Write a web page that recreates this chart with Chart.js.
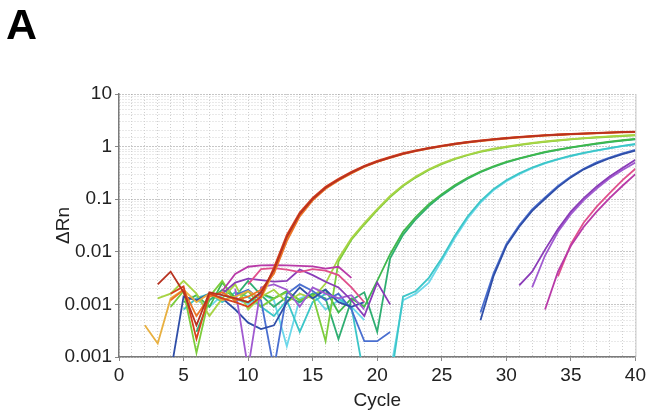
<!DOCTYPE html>
<html>
<head>
<meta charset="utf-8">
<script src="https://cdn.jsdelivr.net/npm/chart.js@4.4.1/dist/chart.umd.min.js"></script>
<style>
  html, body { margin: 0; padding: 0; background: #fff; }
</style>
</head>
<body>
<canvas id="qpcrChart" width="649" height="417"></canvas>
<script>
// amplification plot, delta Rn per cycle (log scale)
// each series starts at its own cycle, null = no point plotted
const yTickLabels = ['0.001', '0.001', '0.01', '0.1', '1', '10'];   // 1e-4 .. 1e1 as printed

const redA = [0.0024, 0.0042, 0.0017, 0.0004, 0.0017, 0.0015, 0.0013, 0.0011, 0.0017, 0.0045,
  0.019, 0.052, 0.10, 0.165, 0.235, 0.32, 0.42, 0.52, 0.62, 0.73,
  0.83, 0.93, 1.02, 1.12, 1.21, 1.29, 1.37, 1.44, 1.51, 1.57,
  1.63, 1.68, 1.73, 1.77, 1.81, 1.85, 1.88, 1.91];
const redB = [0.0016, 0.0022, 0.00022, 0.0016, 0.0013, 0.0011, 0.0009, 0.0014, 0.005,
  0.021, 0.056, 0.106, 0.172, 0.245, 0.33, 0.43, 0.535, 0.64, 0.75,
  0.85, 0.95, 1.04, 1.14, 1.23, 1.31, 1.39, 1.46, 1.53, 1.59,
  1.65, 1.7, 1.75, 1.79, 1.83, 1.87, 1.9, 1.93];
const orangeC = [0.0012, 0.0019, 0.0006, 0.0014, 0.0017, 0.0012, 0.0014, 0.0019, 0.0038,
  0.016, 0.047, 0.095, 0.158, 0.228, 0.31, 0.41, 0.51, 0.61, 0.72,
  0.82, 0.92, 1.01, 1.1, 1.19, 1.27, 1.35, 1.42, 1.49, 1.55,
  1.61, 1.66, 1.71, 1.75, 1.79, 1.83, 1.86, 1.89];
const amberD = [0.0004, 0.00018, 0.0013, 0.0019, 0.0011, 0.0016, 0.0012, 0.0014, 0.0018, 0.0013, 0.0042,
  0.018, 0.05, 0.098, 0.162, 0.232, 0.315, 0.415, 0.52, 0.625, 0.735,
  0.835, 0.935, 1.025, 1.12, 1.21, 1.29, 1.37, 1.44, 1.51, 1.57,
  1.63, 1.68, 1.73, 1.77, 1.81, 1.85, 1.88, 1.91];
const limeA = [0.0013, 0.0016, 0.0028, 0.0016, 0.0006, 0.0013, 0.0024, 0.0008, 0.0014, 0.0019, 0.0011, 0.0016, 0.0013, 0.0025,
  0.0075, 0.018, 0.035, 0.065, 0.115, 0.185, 0.27, 0.37, 0.48, 0.59,
  0.70, 0.81, 0.91, 1.0, 1.09, 1.17, 1.25, 1.32, 1.39, 1.45,
  1.51, 1.56, 1.61, 1.66];
const limeB = [0.0009, 0.0018, 0.00012, 0.0014, 0.0028, 0.0011, 0.0018, 0.0009, 0.0013, 0.0017, 0.0012, 0.0015, 0.0002,
  0.0065, 0.017, 0.033, 0.062, 0.11, 0.178, 0.26, 0.36, 0.465, 0.575,
  0.685, 0.79, 0.89, 0.98, 1.07, 1.15, 1.23, 1.3, 1.37, 1.43,
  1.49, 1.54, 1.59, 1.64];
const greenA = [0.0011, 0.0015, 0.0009, 0.0026, 0.0013, 0.0011, 0.0016, 0.0013, 0.0018, 0.0012, 0.0015, 0.0019, 0.0007, 0.0013, 0.0009, 0.0028,
  0.009, 0.024, 0.046, 0.08, 0.125, 0.185, 0.255, 0.335, 0.42, 0.51,
  0.6, 0.69, 0.79, 0.88, 0.97, 1.06, 1.15, 1.24, 1.32, 1.4];
const greenB = [0.0003, 0.0012, 0.0019, 0.0014, 0.0028, 0.0015, 0.0009, 0.0014, 0.0011, 0.0016, 0.0013, 0.00022, 0.0012, 0.0017, 0.0003,
  0.0075, 0.021, 0.042, 0.074, 0.118, 0.175, 0.245, 0.325, 0.41, 0.5,
  0.59, 0.68, 0.775, 0.865, 0.955, 1.04, 1.13, 1.22, 1.3, 1.38];
const cyanA = [0.0008, 0.0013, 0.0016, 0.0011, 0.0017, 0.0014, 0.0009, 0.0006, 0.0012, 0.0003, 0.0011, 0.0016, 0.0013, 0.0009,
  0.00004, null, 0.00003,
  0.0014, 0.0018, 0.0032, 0.0075, 0.02, 0.047, 0.092, 0.155, 0.23, 0.31,
  0.40, 0.49, 0.58, 0.67, 0.76, 0.85, 0.94, 1.03, 1.12];
const cyanB = [0.0012, 0.0009, 0.0015, 0.0013, 0.0010, 0.0016, 0.0012, 0.00016, 0.0013, 0.0016, 0.0008, 0.0012,
  0.0009, 0.0005, null, 0.00005,
  0.0012, 0.0016, 0.0026, 0.0068, 0.018, 0.043, 0.086, 0.148, 0.22, 0.3,
  0.39, 0.48, 0.57, 0.66, 0.75, 0.84, 0.93, 1.02, 1.1];
const blueA = [0.00005, 0.0014, 0.0012, 0.0016, 0.0013, 0.0008, 0.00045, 0.00034, 0.0004, 0.0011, 0.0021, 0.0013, 0.0019, 0.0011, 0.0009, 0.0011,
  null, null, null, null, null, null, null, null,
  0.0005, 0.0034, 0.013, 0.03, 0.06, 0.102, 0.17, 0.26, 0.37, 0.48, 0.6, 0.72, 0.84];
const blueB = [0.0015, 0.0019, 0.0012, 0.00006, 0.0016, 0.0024, 0.0018, 0.0012, 0.0016, 0.0008, 0.0002, 0.0002, 0.0003,
  null, null, null, null, null, null,
  0.0007, 0.0038, 0.014, 0.032, 0.064, 0.108, 0.178, 0.27, 0.38, 0.5, 0.62, 0.74, 0.87];
const purpleA = [0.0016, 0.0026, 0.0031, 0.0029, 0.0027, 0.0028, 0.0046, 0.0036, 0.0027, 0.0021, 0.0012, 0.0006, 0.0026, 0.001,
  null, null, null, null, null, null, null, null, null,
  0.0023, 0.0042, 0.011, 0.027, 0.058, 0.105, 0.175, 0.27, 0.39, 0.56];
const purpleB = [0.0020, 0.00006, 0.0021, 0.0024, 0.0019, 0.0009, 0.0021, 0.0016, 0.0013, 0.0015, 0.0008,
  null, null, null, null, null, null, null, null, null, null, null, null,
  0.0021, 0.0085, 0.024, 0.052, 0.096, 0.16, 0.25, 0.36, 0.5];
const magentaA = [0.0018, 0.0038, 0.0052, 0.0055, 0.0056, 0.0055, 0.0054, 0.0053, 0.0048, 0.0052, 0.0032,
  null, null, null, null, null, null, null, null, null, null, null, null, null, null,
  0.0008, 0.0042, 0.013, 0.03, 0.058, 0.105, 0.18, 0.3];
const magentaB = [0.0024, 0.0047, 0.0049, 0.0046, 0.0041, 0.0047, 0.0044, 0.0036, 0.0021, 0.0011,
  null, null, null, null, null, null, null, null, null, null, null, null, null, null,
  0.0034, 0.014, 0.036, 0.072, 0.13, 0.23, 0.38];

// first cycle of each series; first in list is drawn on top
const wells = [
  { values: redA,     start: 3,  color: '#b83220' },
  { values: redB,     start: 4,  color: '#d8401c' },
  { values: orangeC,  start: 4,  color: '#ec7426' },
  { values: amberD,   start: 2,  color: '#e8b040' },
  { values: magentaA, start: 8,  color: '#b83aa8' },
  { values: magentaB, start: 10, color: '#e0508c' },
  { values: purpleA,  start: 8,  color: '#8a3cb8' },
  { values: purpleB,  start: 9,  color: '#a05ad0' },
  { values: blueA,    start: 4,  color: '#2f4ea8' },
  { values: blueB,    start: 9,  color: '#4a6fd0' },
  { values: limeA,    start: 3,  color: '#a8d444' },
  { values: limeB,    start: 4,  color: '#7ccc3c' },
  { values: greenA,   start: 5,  color: '#3fb84c' },
  { values: greenB,   start: 6,  color: '#2fae72' },
  { values: cyanA,    start: 5,  color: '#3cc6c8' },
  { values: cyanB,    start: 6,  color: '#6cd8ea' }
];

const isDecade = v => Math.abs(Math.log10(v) - Math.round(Math.log10(v))) < 1e-6;

Chart.defaults.font.family = '"Liberation Sans", Arial, sans-serif';
Chart.defaults.color = '#222';

const panelExtras = {
  id: 'panelExtras',
  afterDraw(chart) {
    const { ctx, chartArea: a } = chart;
    ctx.save();
    ctx.strokeStyle = '#c4c4c4';
    ctx.lineWidth = 1;
    ctx.beginPath();
    ctx.moveTo(a.right + 0.5, a.top);
    ctx.lineTo(a.right + 0.5, a.bottom);
    ctx.stroke();
    ctx.fillStyle = '#000';
    ctx.font = 'bold 43px "Liberation Sans", Arial, sans-serif';
    ctx.textBaseline = 'alphabetic';
    ctx.fillText('A', 6, 39);
    ctx.restore();
  }
};

new Chart(document.getElementById('qpcrChart'), {
  type: 'line',
  data: {
    datasets: wells.map(w => ({
      data: w.values.map((v, i) => ({ x: w.start + i, y: v })),
      borderColor: w.color,
      borderWidth: 1.8,
      pointRadius: 0,
      fill: false,
      tension: 0,
      spanGaps: false
    }))
  },
  options: {
    responsive: false,
    animation: false,
    devicePixelRatio: 1,
    layout: { padding: { top: 94, right: 10, left: 0, bottom: 0 } },
    plugins: { legend: { display: false }, tooltip: { enabled: false } },
    scales: {
      x: {
        type: 'linear',
        min: 0,
        max: 40,
        afterFit: s => { s.height = 60; },
        ticks: {
          stepSize: 1,
          autoSkip: false,
          maxRotation: 0,
          padding: 3,
          color: '#222',
          font: { size: 19 },
          callback: v => (v % 5 === 0 ? String(v) : '')
        },
        grid: {
          color: '#cfcfcf',
          tickLength: 4,
          tickColor: c => (c.tick && c.tick.value % 5 === 0 ? '#888' : 'rgba(0,0,0,0)')
        },
        border: { color: '#7a7a7a', width: 1.5, dash: [1, 2] },
        title: { display: true, text: 'Cycle', color: '#222', font: { size: 19 }, padding: { top: 0, bottom: 5 } }
      },
      y: {
        type: 'logarithmic',
        min: 0.0001,
        max: 10,
        afterFit: s => { s.width = 119; },
        ticks: {
          autoSkip: false,
          padding: 3,
          color: '#222',
          font: { size: 19 },
          callback: v => (isDecade(v) ? yTickLabels[Math.round(Math.log10(v)) + 4] : '')
        },
        grid: {
          color: c => (c.tick && isDecade(c.tick.value) ? '#8e8e8e' : '#d2d2d2'),
          tickLength: 4,
          tickColor: c => (c.tick && isDecade(c.tick.value) ? '#888' : 'rgba(0,0,0,0)')
        },
        border: { color: '#7a7a7a', width: 1.5, dash: [1, 2] },
        title: { display: true, text: 'ΔRn', color: '#222', font: { size: 19 }, padding: { top: 52, bottom: 0 } }
      }
    }
  },
  plugins: [panelExtras]
});
</script>
</body>
</html>
